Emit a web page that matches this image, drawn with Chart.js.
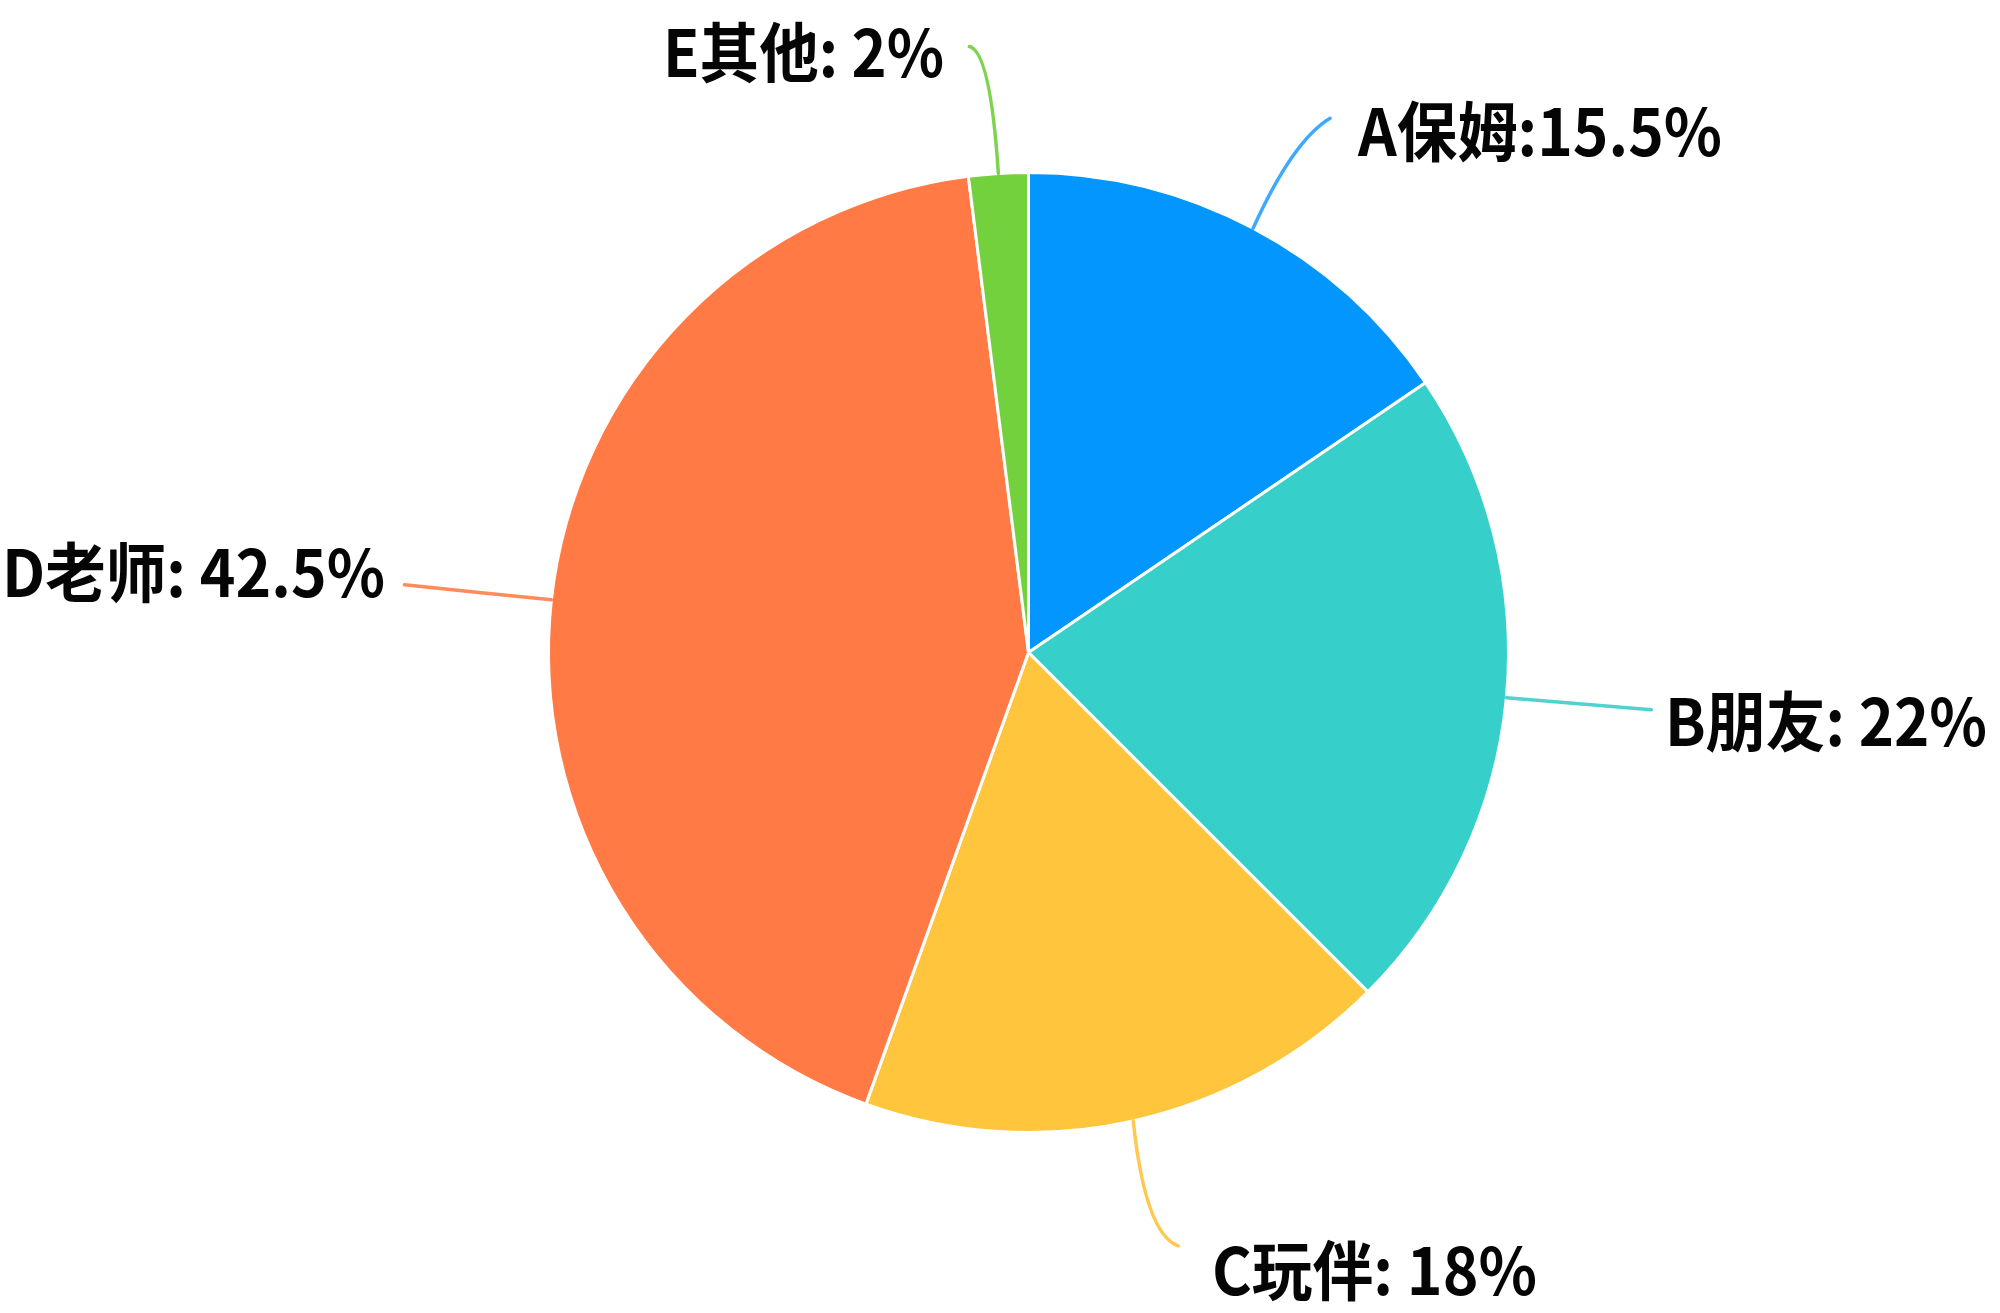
<!DOCTYPE html>
<html>
<head>
<meta charset="utf-8">
<script src="https://cdn.jsdelivr.net/npm/chart.js@4/dist/chart.umd.min.js"></script>
<style>
  html, body { margin: 0; padding: 0; background: #fff; }
  #wrap { width: 2000px; height: 1313px; position: relative; }
</style>
</head>
<body>
<div id="wrap"><canvas id="c" width="2000" height="1313"></canvas></div>
<script>
// ---- data ----
const categories = ['A保姆', 'B朋友', 'C玩伴', 'D老师', 'E其他'];
const shares = [15.5, 22, 18, 42.5, 2];
const labelTexts = ['A保姆:15.5%', 'B朋友: 22%', 'C玩伴: 18%', 'D老师: 42.5%', 'E其他: 2%'];

// ---- styles ----
const sliceColors = ['#0496FF', '#36CFC9', '#FFC53D', '#FF7A45', '#73D13D'];
const lineColors  = ['#3FA9FF', '#4FD3CE', '#FFC94F', '#FF8A5C', '#7ED34F'];

// leader-line layout: control point and end point offsets (from arc edge anchor), text box
const leaderLayout = [
  { ctrl: [40, -88],  end: [77, -110],  text: [1358, 156],  width: 364 },
  { ctrl: [72, 6],    end: [145, 12],   text: [1665, 746],  width: 322 },
  { ctrl: [12, 113],  end: [45, 125],   text: [1212, 1295], width: 325 },
  { ctrl: [-72, -7],  end: [-147, -15], text: [2, 597],     width: 383 },
  { ctrl: [-8, -122], end: [-29, -127], text: [663, 77],    width: 281 }
];

const leaderPlugin = {
  id: 'leaders',
  afterDatasetsDraw(chart) {
    const ctx = chart.ctx;
    const meta = chart.getDatasetMeta(0);
    meta.data.forEach((arc, i) => {
      const p = arc.getProps(['x', 'y', 'startAngle', 'endAngle', 'outerRadius'], true);
      const mid = (p.startAngle + p.endAngle) / 2;
      const sx = p.x + Math.cos(mid) * p.outerRadius;
      const sy = p.y + Math.sin(mid) * p.outerRadius;
      const L = leaderLayout[i];
      ctx.save();
      ctx.strokeStyle = lineColors[i];
      ctx.lineWidth = 3.5;
      ctx.lineCap = 'round';
      ctx.beginPath();
      ctx.moveTo(sx, sy);
      ctx.quadraticCurveTo(sx + L.ctrl[0], sy + L.ctrl[1], sx + L.end[0], sy + L.end[1]);
      ctx.stroke();
      ctx.restore();

      ctx.save();
      ctx.fillStyle = '#050505';
      ctx.font = 'bold 65px "Noto Sans CJK SC", "Noto Sans", sans-serif';
      ctx.textAlign = 'left';
      ctx.textBaseline = 'alphabetic';
      const w = ctx.measureText(labelTexts[i]).width;
      const k = L.width / w;
      ctx.translate(L.text[0], L.text[1]);
      ctx.scale(k, 1);
      ctx.fillText(labelTexts[i], 0, 0);
      ctx.restore();
    });
  }
};

new Chart(document.getElementById('c'), {
  type: 'pie',
  data: {
    labels: categories,
    datasets: [{
      data: shares,
      backgroundColor: sliceColors,
      borderColor: '#ffffff',
      borderWidth: 3,
      hoverOffset: 0,
      offset: 0
    }]
  },
  options: {
    responsive: false,
    animation: false,
    rotation: 0,
    layout: { padding: { top: 171, bottom: 179, left: 547, right: 490 } },
    plugins: {
      legend: { display: false },
      tooltip: { enabled: false }
    }
  },
  plugins: [leaderPlugin]
});
</script>
</body>
</html>
